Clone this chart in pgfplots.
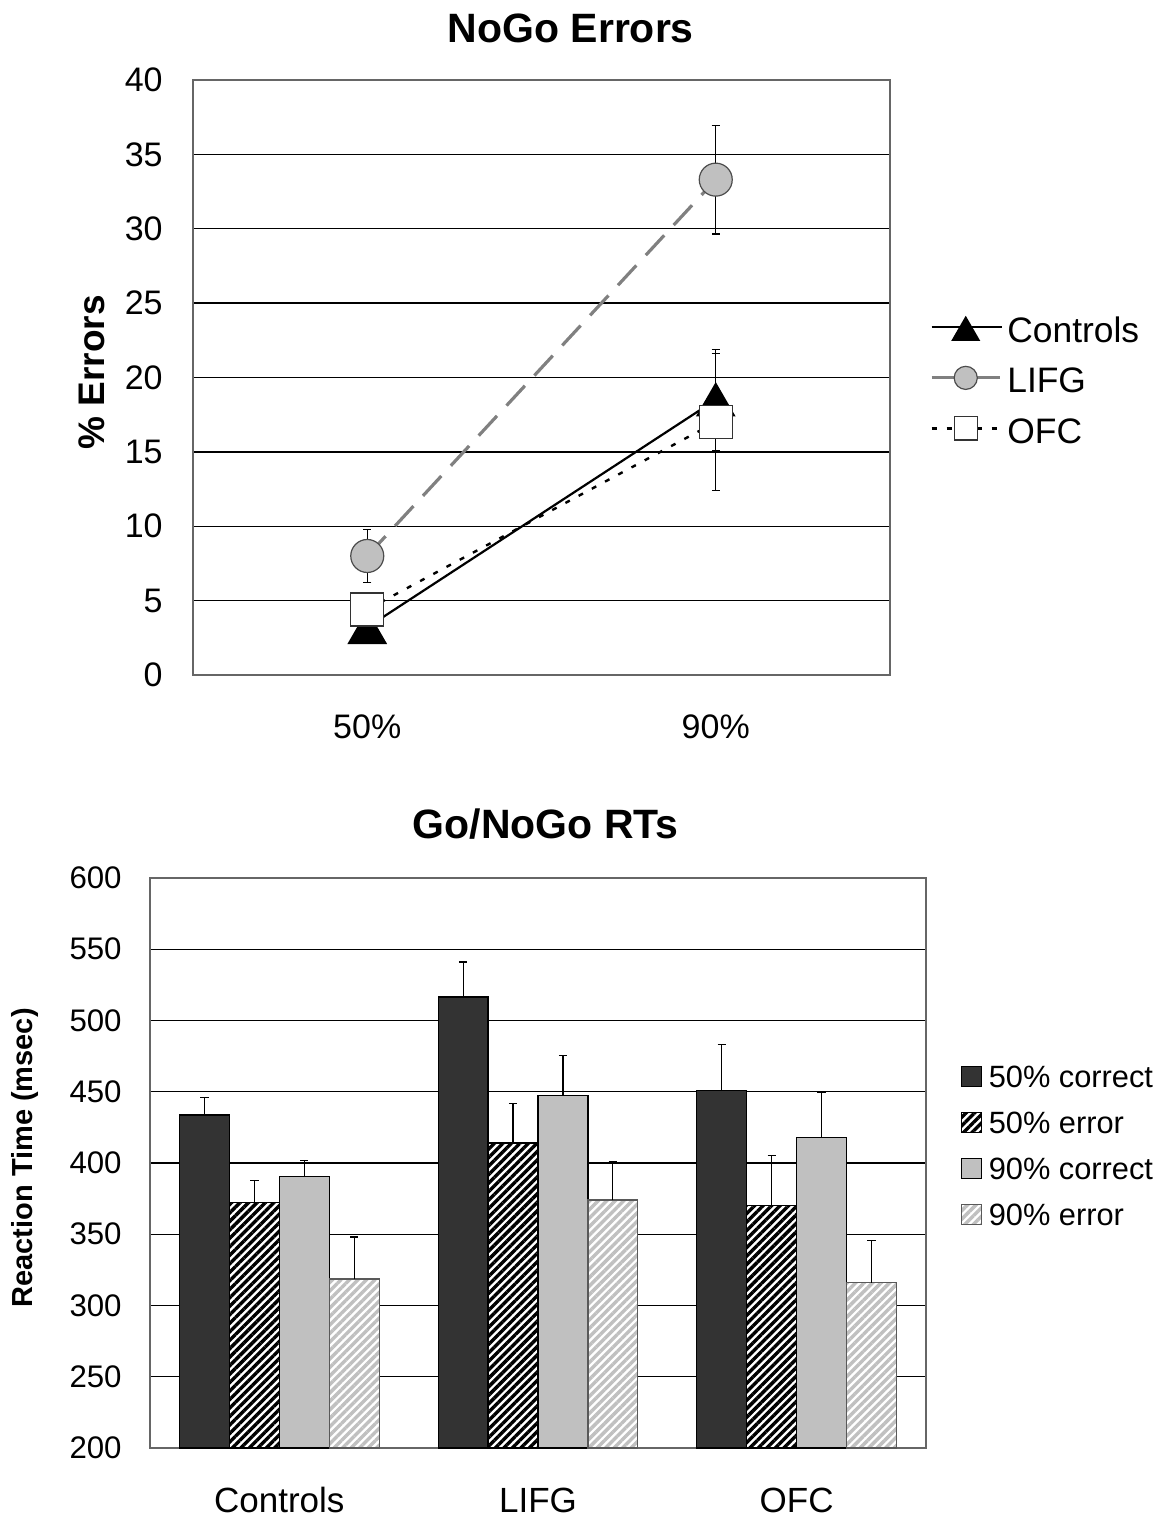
\documentclass[border=0pt]{standalone}
\usepackage{fontspec}
\setmainfont{Liberation Sans}
\usepackage{pgfplots}
\pgfplotsset{compat=1.18}
\usetikzlibrary{patterns.meta}

\definecolor{darkbar}{HTML}{333333}
\definecolor{lightbar}{HTML}{C0C0C0}
\definecolor{lifg}{HTML}{808080}

\pgfplotsset{
  chartbase/.style={
    scale only axis,
    axis line style={draw=black!60, line width=1pt},
    ymajorgrids, grid style={black, line width=0.7pt},
    major tick length=0pt,
    /pgf/number format/assume math mode=true,
    clip=false,
  },
  errstyle/.style={
    /pgfplots/error bars/.cd, y dir=#1, y explicit,
    error bar style={black, line width=0.6pt, solid},
    error mark options={rotate=90, mark size=2.1pt, black, solid, line width=0.6pt},
    /pgfplots/.cd,
  },
  rtbar/.style={ybar, bar width=0.193, bar shift=0, line width=0.6pt, errstyle=plus},
}

\begin{document}
\begin{tikzpicture}
\path[use as bounding box] (0,0) rectangle (582pt,759.5pt);

% top: NoGo errors
\begin{axis}[chartbase,
  at={(96.5pt,422pt)}, anchor=south west,
  width=348.5pt, height=297.5pt,
  xmin=-0.5, xmax=1.5, ymin=0, ymax=40,
  xtick={0,1}, xticklabels={50\%,90\%},
  ytick={0,5,...,40},
  title={NoGo Errors},
  title style={at={(axis description cs:0.542,1)}, anchor=center, yshift=20pt,
    font=\bfseries\fontsize{20.5}{24}\selectfont},
  ylabel={\% Errors},
  ylabel style={at={(axis description cs:-0.145,0.509)}, anchor=center,
    font=\bfseries\fontsize{18.5}{22}\selectfont},
  tick label style={font=\fontsize{17}{20}\selectfont},
  yticklabel style={anchor=east, inner sep=0pt, xshift=-15pt},
  xticklabel style={anchor=center, inner sep=0pt, yshift=-26pt},
  legend style={draw=none, fill=none, inner sep=0pt,
    at={(axis description cs:1.057,0.496)}, anchor=west,
    font=\fontsize{17.7}{21}\selectfont, row sep=12pt,
    nodes={inner sep=0pt, text height=13pt, text depth=0pt},
    /tikz/every odd column/.append style={column sep=2pt}},
  legend cell align=left,
  legend image code/.code={
    \draw[mark repeat=2, mark phase=2, #1, every mark/.append style={scale=0.7}]
      plot coordinates {(0pt,1pt) (17pt,1pt) (35pt,1pt)};
  },
]
\addplot[black, line width=1.1pt, mark=triangle*, mark size=10.4pt,
  mark options={solid, fill=black, yshift=-2.6pt},
  errstyle=both]
  coordinates {(0,3.2) +- (0,1.0) (1,18.5) +- (0,3.4)};
\addlegendentry{Controls}
\addplot[lifg, line width=1.6pt, dash pattern=on 13.5pt off 7pt,
  mark=*, mark size=8.25pt,
  mark options={solid, fill=lightbar, draw=black!70, line width=0.6pt},
  errstyle=both]
  coordinates {(0,8.0) +- (0,1.8) (1,33.3) +- (0,3.65)};
\addlegendentry{LIFG}
\addplot[black, line width=1.2pt, dash pattern=on 2.5pt off 5pt,
  mark=square*, mark size=8.25pt,
  mark options={solid, fill=white, draw=black!80, line width=0.6pt},
  errstyle=both]
  coordinates {(0,4.4) +- (0,1.0) (1,17.0) +- (0,4.6)};
\addlegendentry{OFC}
\end{axis}

% bottom: Go/NoGo RTs (bars placed at group position +- offset)
\begin{axis}[chartbase,
  at={(75pt,35.5pt)}, anchor=south west,
  width=388pt, height=285pt,
  xmin=-0.5, xmax=2.5, ymin=200, ymax=600,
  xtick={0,1,2}, xticklabels={Controls,LIFG,OFC},
  ytick={200,250,...,600},
  title={Go/NoGo RTs},
  title style={at={(axis description cs:0.51,1)}, anchor=center, yshift=21pt,
    font=\bfseries\fontsize{20.5}{24}\selectfont},
  ylabel={Reaction Time (msec)},
  ylabel style={at={(axis description cs:-0.161,0.509)}, anchor=center,
    font=\bfseries\fontsize{14.5}{17}\selectfont},
  yticklabel style={anchor=east, inner sep=0pt, xshift=-14pt,
    font=\fontsize{15.6}{18}\selectfont},
  xticklabel style={anchor=center, inner sep=0pt, yshift=-26pt,
    font=\fontsize{17.5}{20}\selectfont},
  legend style={draw=none, fill=none, inner sep=0pt,
    at={(axis description cs:1.044,0.531)}, anchor=west,
    font=\fontsize{15.4}{18}\selectfont, row sep=12pt,
    nodes={inner sep=0pt, text height=11pt, text depth=0pt},
    /tikz/every odd column/.append style={column sep=3.5pt}},
  legend cell align=left,
  legend image code/.code={
    \draw[#1, line width=0.6pt] (0pt,-5pt) rectangle (10pt,5pt);
  },
]
\addplot[rtbar, fill=darkbar, draw=black]
  coordinates {(-0.2895,433.7) +- (0,12.1) (0.7105,516.5) +- (0,24.5) (1.7105,451.0) +- (0,32.0)};
\addlegendentry{50\% correct}
\addplot[rtbar, fill=white, draw=black,
  postaction={pattern={Lines[angle=45, distance=3pt, line width=1.7pt]}, pattern color=black}]
  coordinates {(-0.0965,372.4) +- (0,15.5) (0.9035,414.0) +- (0,28.0) (1.9035,370.3) +- (0,35.0)};
\addlegendentry{50\% error}
\addplot[rtbar, fill=lightbar, draw=black]
  coordinates {(0.0965,390.6) +- (0,11.4) (1.0965,447.2) +- (0,28.0) (2.0965,417.8) +- (0,32.0)};
\addlegendentry{90\% correct}
\addplot[rtbar, fill=white, draw=black!65,
  postaction={pattern={Lines[angle=45, distance=3pt, line width=1.7pt]}, pattern color=lightbar}]
  coordinates {(0.2895,318.6) +- (0,29.5) (1.2895,374.0) +- (0,27.0) (2.2895,316.0) +- (0,29.5)};
\addlegendentry{90\% error}
\end{axis}
\end{tikzpicture}
\end{document}
